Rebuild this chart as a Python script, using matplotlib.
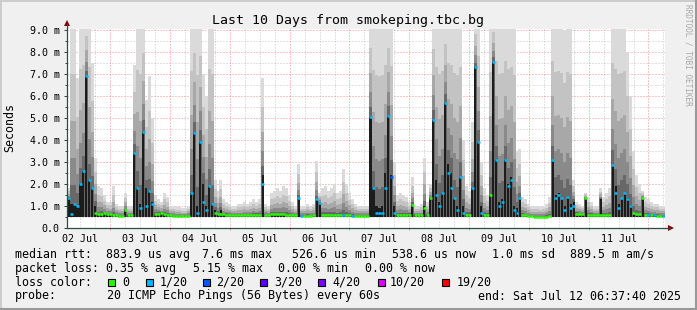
import matplotlib
matplotlib.use("Agg")
import matplotlib.pyplot as plt
from matplotlib.patches import Rectangle, Polygon
from matplotlib.lines import Line2D
import numpy as np

W, H = 697, 310
MONO = "DejaVu Sans Mono"

# 200 columns of 72 min = 10 days, ending Sat Jul 12 06:37:40 2025
start_hour = 6 + 37 / 60 + 40 / 3600   # graph starts Jul 2 06:37:40
step = 1.2                             # hours per column
lo_ping = 0.52                         # ms, bottom of the smoke

# median rtt (ms), top of dark smoke, top of light smoke, loss colour index
med = [1.36, 0.62, 1.1, 1.0, 2.0, 2.6, 6.9, 2.2, 1.8, 0.7,
       0.62, 0.65, 0.66, 0.64, 0.62, 0.6, 0.58, 0.55, 0.55, 0.8,
       0.58, 0.6, 3.4, 1.8, 0.9, 4.38, 1.0, 1.7, 1.1, 0.65,
       0.65, 0.66, 0.62, 0.6, 0.58, 0.56, 0.54, 0.53, 0.53, 0.54,
       0.56, 1.6, 4.3, 0.7, 3.9, 1.2, 0.8, 1.9, 1.1, 0.7,
       0.65, 0.65, 0.62, 0.6, 0.6, 0.58, 0.58, 0.57, 0.57, 0.58,
       0.58, 0.59, 0.6, 0.6, 0.6, 2.0, 0.6, 0.6, 0.62, 0.62,
       0.62, 0.62, 0.62, 0.6, 0.6, 0.58, 0.58, 1.35, 0.55, 0.55,
       0.56, 0.56, 0.57, 1.3, 1.15, 0.6, 0.6, 0.6, 0.6, 0.6,
       0.6, 0.6, 0.6, 0.58, 0.57, 0.56, 0.55, 0.55, 0.55, 0.55,
       0.55, 5.06, 1.8, 0.7, 0.7, 0.7, 1.8, 5.1, 2.3, 0.7,
       0.6, 0.6, 0.6, 0.6, 0.6, 1.05, 0.58, 0.57, 0.57, 0.9,
       0.58, 1.35, 4.9, 1.5, 1.0, 1.6, 5.7, 2.5, 1.8, 1.35,
       0.8, 2.3, 0.7, 0.6, 0.6, 1.8, 7.3, 3.9, 0.7, 0.6,
       0.6, 1.5, 7.56, 3.1, 1.0, 1.2, 3.1, 1.9, 2.2, 0.8,
       0.7, 1.35, 0.6, 0.58, 0.55, 0.53, 0.52, 0.52, 0.51, 0.51,
       0.52, 0.55, 3.1, 1.35, 1.5, 1.35, 0.8, 1.4, 0.9, 1.0,
       0.65, 0.65, 0.65, 1.35, 0.6, 0.6, 0.58, 0.58, 0.6, 0.6,
       0.6, 0.6, 2.86, 1.6, 0.9, 1.35, 1.6, 1.3, 1.0, 0.7,
       0.65, 0.65, 1.35, 0.6, 0.6, 0.58, 0.58, 0.56, 0.56, 0.56]

blk = [1.36, 1.1, 1.1, 1.0, 2.0, 2.6, 6.9, 2.2, 1.8, 1.0,
       0.62, 0.65, 0.66, 0.64, 0.62, 0.6, 0.58, 0.55, 0.55, 0.8,
       0.58, 0.6, 3.4, 1.8, 1.1, 4.38, 1.8, 1.7, 1.2, 0.65,
       0.65, 0.66, 0.62, 0.6, 0.58, 0.56, 0.54, 0.53, 0.53, 0.54,
       0.56, 1.6, 4.3, 1.0, 3.9, 2.0, 1.0, 1.9, 1.1, 0.8,
       0.65, 0.8, 0.62, 0.6, 0.6, 0.58, 0.58, 0.57, 0.57, 0.58,
       0.58, 0.59, 0.6, 0.6, 0.6, 2.4, 0.6, 0.6, 0.62, 0.62,
       0.62, 0.62, 0.62, 0.6, 0.6, 0.58, 0.58, 1.35, 0.55, 0.55,
       0.56, 0.56, 0.57, 1.3, 1.15, 0.6, 0.6, 0.6, 0.6, 0.6,
       0.6, 0.6, 0.6, 0.58, 0.57, 0.56, 0.55, 0.55, 0.55, 0.55,
       0.55, 5.06, 1.8, 1.0, 0.9, 1.0, 2.5, 5.1, 2.4, 1.0,
       0.6, 0.6, 0.6, 0.6, 0.6, 1.05, 0.58, 0.57, 0.57, 1.0,
       0.58, 1.35, 4.9, 2.2, 1.2, 1.6, 5.7, 2.9, 2.5, 1.35,
       1.0, 2.3, 1.0, 0.6, 0.6, 1.8, 7.3, 3.9, 1.0, 0.6,
       0.6, 1.5, 7.56, 3.1, 1.2, 1.3, 3.1, 2.0, 2.3, 1.0,
       0.9, 1.35, 0.6, 0.58, 0.55, 0.53, 0.52, 0.52, 0.51, 0.51,
       0.52, 0.55, 3.1, 1.5, 1.6, 1.35, 1.0, 1.4, 1.1, 1.2,
       0.65, 0.65, 0.65, 1.35, 0.6, 0.6, 0.58, 0.58, 1.3, 0.6,
       0.6, 0.6, 2.86, 1.9, 1.1, 1.35, 1.6, 1.35, 1.05, 0.7,
       0.65, 0.65, 1.35, 0.6, 0.6, 0.58, 0.58, 0.56, 0.56, 0.56]

light = [1.8, 9.5, 9.5, 6.8, 9.5, 9.5, 9.5, 9.5, 7.5, 3.2,
         1.9, 1.8, 1.5, 1.2, 1.2, 1.9, 1.1, 1.0, 1.0, 1.6,
         1.0, 1.0, 7.4, 9.5, 9.5, 9.5, 5.8, 6.9, 5.0, 1.5,
         1.3, 1.2, 1.6, 1.4, 1.0, 1.0, 0.95, 0.95, 0.9, 0.9,
         1.0, 9.5, 9.5, 9.5, 9.5, 7.0, 6.0, 9.5, 9.5, 2.2,
         1.7, 2.2, 1.3, 1.2, 1.1, 1.0, 1.0, 1.1, 1.1, 1.2,
         1.1, 1.2, 1.3, 1.2, 1.3, 6.8, 1.1, 1.0, 1.6, 1.7,
         1.8, 1.7, 1.9, 1.8, 1.5, 1.2, 1.0, 2.9, 1.0, 1.0,
         1.1, 1.0, 1.1, 3.05, 1.6, 1.8, 1.9, 1.7, 1.8, 2.0,
         1.6, 1.7, 2.7, 2.0, 1.6, 1.3, 1.1, 1.0, 1.0, 1.0,
         1.0, 9.5, 9.5, 9.5, 9.5, 9.5, 9.5, 9.5, 9.5, 3.0,
         1.5, 1.6, 1.5, 1.4, 1.2, 2.3, 1.0, 1.0, 1.1, 3.2,
         1.2, 2.0, 9.5, 9.5, 9.5, 9.5, 9.5, 9.5, 9.5, 9.5,
         9.5, 9.5, 4.0, 1.9, 1.7, 4.8, 9.5, 9.5, 3.0, 1.8,
         1.5, 9.5, 9.5, 9.5, 9.5, 9.5, 9.5, 9.5, 9.5, 9.5,
         3.5, 3.6, 1.4, 1.3, 1.1, 1.0, 1.0, 1.0, 0.95, 1.0,
         1.1, 1.4, 9.5, 9.5, 9.5, 9.5, 9.0, 9.5, 9.5, 2.2,
         1.2, 1.1, 1.0, 1.6, 1.4, 1.2, 1.0, 1.0, 1.8, 1.4,
         1.6, 1.8, 9.5, 9.5, 9.5, 9.5, 9.5, 8.0, 6.0, 3.5,
         2.4, 2.0, 1.7, 1.4, 1.3, 1.2, 1.1, 1.1, 1.0, 1.0]

loss = [1, 1, 1, 1, 1, 1, 1, 1, 1, 0,
        0, 0, 0, 0, 0, 0, 0, 0, 0, 0,
        0, 0, 1, 1, 1, 1, 1, 1, 1, 0,
        0, 0, 0, 0, 0, 0, 0, 0, 0, 0,
        0, 1, 1, 1, 1, 1, 1, 1, 1, 0,
        0, 0, 0, 0, 0, 0, 0, 0, 0, 0,
        0, 0, 0, 0, 0, 1, 0, 0, 0, 0,
        0, 0, 0, 0, 0, 0, 0, 1, 1, 0,
        0, 0, 0, 1, 1, 0, 0, 0, 0, 0,
        0, 0, 1, 0, 0, 1, 0, 0, 0, 0,
        0, 1, 1, 1, 1, 1, 1, 1, 2, 1,
        0, 0, 0, 0, 0, 0, 0, 0, 0, 0,
        0, 0, 1, 1, 1, 1, 1, 1, 1, 1,
        1, 1, 1, 0, 0, 1, 1, 1, 1, 0,
        0, 0, 1, 1, 1, 1, 1, 1, 1, 1,
        1, 1, 0, 0, 0, 0, 0, 0, 0, 0,
        0, 0, 1, 1, 1, 1, 1, 1, 1, 1,
        0, 0, 0, 0, 0, 0, 0, 0, 0, 0,
        0, 0, 1, 1, 1, 1, 1, 1, 1, 0,
        0, 0, 0, 0, 1, 0, 1, 0, 0, 1]

loss_colors = ['#26ff00', '#00b8ff', '#0059ff', '#5e00ff', '#7e00ff', '#dd00ff', '#ff0000']
loss_labels = ['0', '1/20', '2/20', '3/20', '4/20', '10/20', '19/20']
day_labels = ['02 Jul', '03 Jul', '04 Jul', '05 Jul', '06 Jul',
              '07 Jul', '08 Jul', '09 Jul', '10 Jul', '11 Jul']
y_values = [0, 1, 2, 3, 4, 5, 6, 7, 8, 9]

rtt_legend = ['median rtt:', '883.9 us avg', '7.6 ms max', '526.6 us min',
              '538.6 us now', '1.0 ms sd', '889.5 m am/s']
loss_legend = ['packet loss:', '0.35 % avg', '5.15 % max', '0.00 % min', '0.00 % now']
probe_text = '20 ICMP Echo Pings (56 Bytes) every 60s'
end_text = 'end: Sat Jul 12 06:37:40 2025'


def fx(px):
    return px / W


def fy(py):
    return 1 - py / H


fig = plt.figure(figsize=(W / 100, H / 100), dpi=100, facecolor='#f0f0f0')
ax = fig.add_axes([fx(67), fy(228), 598 / W, (228 - 28.5) / H])
ax.set_facecolor('white')
for s in ax.spines.values():
    s.set_visible(False)

n = len(med)
x = np.arange(n) * step + step / 2
span = n * step
ax.set_xlim(0, span)
ax.set_ylim(0, 9.07)

# grid: 6h minor, midnight major; 0.5 ms minor, 1 ms major
midnight0 = 24 - start_hour
for v in np.arange(midnight0 % 6, span, 6):
    is_major = abs(((v - midnight0) / 24) - round((v - midnight0) / 24)) < 1e-6
    ax.axvline(v, color='#f00000' if is_major else '#8f8f8f',
               alpha=0.45 if is_major else 0.5, lw=0.72, ls=(0, (1, 2)), zorder=1)
for v in np.arange(0.5, 9.01, 0.5):
    is_major = abs(v - round(v)) < 1e-6
    ax.axhline(v, color='#f00000' if is_major else '#8f8f8f',
               alpha=0.45 if is_major else 0.5, lw=0.72, ls=(0, (1, 2)), zorder=1)

# smoke
med_a = np.array(med)
blk_a = np.array(blk)
light_a = np.array(light)
fracs = [1.0, 0.7, 0.45, 0.25, 0.1]
grays = ['#dadada', '#c3c3c3', '#a8a8a8', '#8a8a8a', '#686868']
for f, g in zip(fracs, grays):
    top = blk_a + (light_a - blk_a) * f
    ax.bar(x, top - lo_ping, bottom=lo_ping, width=step, color=g, lw=0, zorder=2)
ax.bar(x, blk_a - lo_ping, bottom=lo_ping, width=step * 0.7, color='#1c1c1c', lw=0, zorder=3)

# median, coloured by loss
ax.hlines(med_a, x - step / 2, x + step / 2, colors=[loss_colors[k] for k in loss],
          lw=1.8, zorder=4)

# ticks
ax.set_yticks(y_values, ['0.0'] + ['%.1f m' % v for v in y_values[1:]])
ax.set_yticks(np.arange(0.5, 9.01, 1.0), minor=True)
ax.tick_params(axis='y', which='major', length=2.2, width=0.72, color='#2c4d43',
               pad=3.2, labelsize=7.2, labelfontfamily=MONO)
ax.tick_params(axis='y', which='minor', length=1.2, width=0.72, color='#2c4d43')
ax.set_xticks(np.arange(midnight0, span, 24), [''] * len(np.arange(midnight0, span, 24)))
ax.tick_params(axis='x', which='major', length=1.6, width=0.72, color='#f09090')
noons = np.arange(midnight0 - 12, span, 24)
ax.set_xticks(noons, day_labels, minor=True)
ax.tick_params(axis='x', which='minor', length=0, pad=4.2, labelsize=7.2,
               labelfontfamily=MONO)

# axes lines and arrows
fig.add_artist(Line2D([fx(67), fx(67)], [fy(228), fy(24)], color='#2c4d43', lw=0.9))
fig.add_artist(Line2D([fx(67), fx(670)], [fy(228), fy(228)], color='#2c4d43', lw=0.9))
fig.add_artist(Polygon([[fx(64), fy(26)], [fx(70), fy(26)], [fx(67), fy(20)]],
                       closed=True, color='#7f0000', lw=0))
fig.add_artist(Polygon([[fx(668), fy(225)], [fx(668), fy(231)], [fx(674), fy(228)]],
                       closed=True, color='#7f0000', lw=0))

# texts
fig.text(fx(348), fy(24), 'Last 10 Days from smokeping.tbc.bg', ha='center',
         va='baseline', fontsize=9.5, family=MONO)
fig.text(fx(10), fy(127), 'Seconds', rotation=90, ha='center', va='center',
         fontsize=8.4, family=MONO)
fig.text(fx(688), fy(4), 'RRDTOOL / TOBI OETIKER', rotation=270, ha='center',
         va='top', fontsize=5.6, family=MONO, color='#a8a8a8')

rtt_x = [16, 107, 203, 293, 393, 493, 571]
for t, px in zip(rtt_legend, rtt_x):
    fig.text(fx(px - 0.7), fy(257.7), t, fontsize=8.4, family=MONO, va='baseline')
loss_x = [16, 107, 194, 279, 366]
for t, px in zip(loss_legend, loss_x):
    fig.text(fx(px - 0.7), fy(271.7), t, fontsize=8.4, family=MONO, va='baseline')

fig.text(fx(15.3), fy(285.7), 'loss color:', fontsize=8.4, family=MONO, va='baseline')
sw_x = [108.3, 146, 202.7, 260, 318.3, 377.7, 441.7]
lab_x = [123, 160, 217, 275, 333, 390, 457]
for c, lab, sx, lx in zip(loss_colors, loss_labels, sw_x, lab_x):
    fig.add_artist(Rectangle((fx(sx), fy(286)), 7 / W, 7.5 / H, facecolor=c,
                             edgecolor='black', lw=0.8))
    fig.text(fx(lx - 0.7), fy(285.7), lab, fontsize=8.4, family=MONO, va='baseline')

fig.text(fx(15.3), fy(299.5), 'probe:', fontsize=8.4, family=MONO, va='baseline')
fig.text(fx(106.6), fy(299.5), probe_text, fontsize=8.4, family=MONO, va='baseline')
fig.text(fx(477.6), fy(299.5), end_text, fontsize=8.4, family=MONO, va='baseline')

# frame shading
fig.add_artist(Line2D([0, 1], [fy(0.8), fy(0.8)], color='#cbcbcb', lw=1.4))
fig.add_artist(Line2D([fx(0.8), fx(0.8)], [0, 1], color='#cbcbcb', lw=1.4))
fig.add_artist(Line2D([0, 1], [fy(308.5), fy(308.5)], color='#999999', lw=2.2))
fig.add_artist(Line2D([fx(695.5), fx(695.5)], [0, 1], color='#999999', lw=2.2))

fig.savefig('out.png', dpi=100, facecolor=fig.get_facecolor())
